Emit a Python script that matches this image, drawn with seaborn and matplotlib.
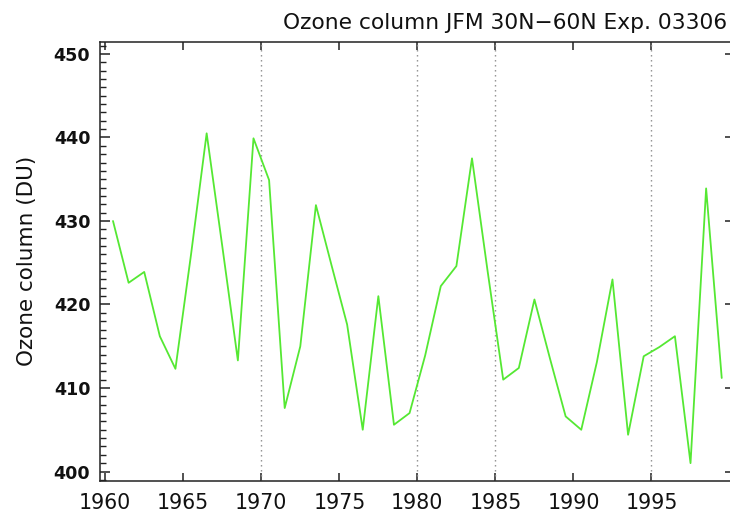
import matplotlib
matplotlib.use("Agg")
import matplotlib.pyplot as plt
from matplotlib.ticker import MultipleLocator
import pandas as pd
import seaborn as sns

# JFM mean total ozone, 30N-60N, one value per winter
years = list(range(1960, 2000))
ozone = [430.0, 422.6, 423.9, 416.2, 412.3, 426.0, 440.5, 427.0, 413.3, 439.9,
         434.9, 407.6, 415.0, 431.9, 424.7, 417.6, 405.0, 421.0, 405.6, 407.0,
         413.9, 422.2, 424.6, 437.5, 424.0, 411.0, 412.4, 420.6, 413.5, 406.6,
         405.0, 413.1, 423.0, 404.4, 413.8, 414.9, 416.2, 401.0, 433.9, 411.2]
marker_years = [1970, 1980, 1985, 1995]
x_ticks = [1960, 1965, 1970, 1975, 1980, 1985, 1990, 1995]
y_ticks = [400, 410, 420, 430, 440, 450]

df = pd.DataFrame({"year": [y + 0.5 for y in years], "ozone": ozone})

sns.set_style("white")
plt.rcParams["font.family"] = ["DejaVu Sans"]

fig = plt.figure(figsize=(7.30, 5.19), dpi=100)
W, H = 730, 519
ax = fig.add_axes([100 / W, 1 - 480.7 / H, 635 / W, 439 / H])

for yr in marker_years:
    ax.axvline(yr, color="#8a8a8a", lw=1.0, ls=(0, (1, 2.6)), zorder=1)

sns.lineplot(data=df, x="year", y="ozone", ax=ax, color="#55e833",
             lw=1.3, zorder=3)

ax.set_xlim(1959.667, 2000.35)
ax.set_ylim(398.9, 451.47)
ax.set_xticks(x_ticks)
ax.set_yticks(y_ticks)
ax.yaxis.set_minor_locator(MultipleLocator(1))

for s in ax.spines.values():
    s.set_visible(True)
    s.set_linewidth(1.1)
    s.set_color("#222222")

ax.tick_params(which="both", direction="in", left=True, bottom=True,
               top=True, right=True, color="#222222", width=1.1)
ax.tick_params(axis="y", which="major", length=7.2, pad=7)
ax.tick_params(axis="y", which="minor", length=4.3, width=1.0,
               left=True, right=False)
ax.tick_params(axis="x", which="major", length=5.5, pad=9)
ax.tick_params(axis="x", which="minor", bottom=False, top=False)

for lab in ax.get_yticklabels():
    lab.set_fontsize(12.6)
    lab.set_fontweight("bold")
    lab.set_color("#111111")
for lab in ax.get_xticklabels():
    lab.set_fontsize(14.8)
    lab.set_color("#111111")

ax.set_xlabel("")
ax.set_ylabel("Ozone column (DU)", fontsize=15.5, color="#111111", labelpad=12)

fig.text(727 / W, 1 - 29 / H, "Ozone column JFM 30N\u221260N Exp. 03306",
         ha="right", va="baseline", fontsize=15.7, color="#111111")

fig.savefig("out.png", dpi=100, facecolor="white")
